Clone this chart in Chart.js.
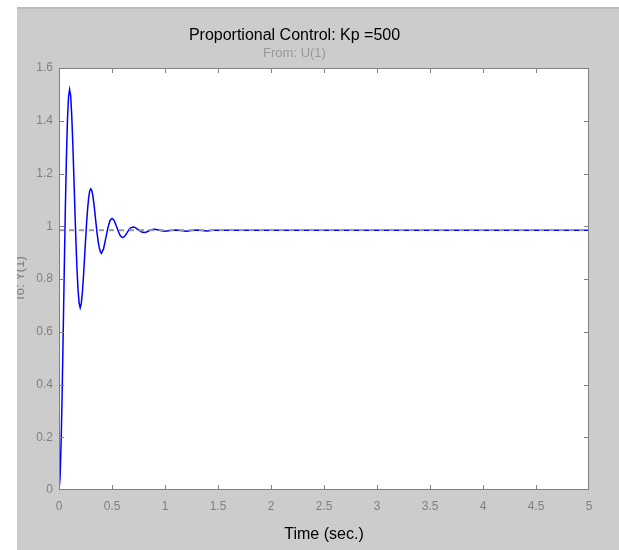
<!DOCTYPE html>
<html lang="en">
  <head>
    <meta charset="UTF-8" />
    <script src="https://cdn.jsdelivr.net/npm/chart.js@4.4.0/dist/chart.umd.min.js"></script>
    <title>Proportional Control: Kp =500</title>
    <style>
      body {
        margin: 0;
        padding: 0;
        background: white;
      }

      .container {
        width: 619px;
        height: 550px;
      }
    </style>
  </head>
  <body>
    <div class="container">
      <canvas id="stepChart"></canvas>
    </div>
    <script>
      // step response
      const timeSec = [
        0, 0.01, 0.02, 0.03, 0.04, 0.05, 0.06, 0.07, 0.08, 0.09,
        0.1, 0.11, 0.12, 0.13, 0.14, 0.15, 0.16, 0.17, 0.18, 0.19,
        0.2, 0.21, 0.22, 0.23, 0.24, 0.25, 0.26, 0.27, 0.28, 0.29,
        0.3, 0.31, 0.32, 0.33, 0.34, 0.35, 0.36, 0.37, 0.38, 0.39,
        0.4, 0.42, 0.44, 0.46, 0.48, 0.5, 0.52, 0.54, 0.56, 0.58,
        0.6, 0.62, 0.64, 0.66, 0.68, 0.7, 0.72, 0.74, 0.76, 0.78,
        0.8, 0.82, 0.84, 0.86, 0.88, 0.9, 0.92, 0.94, 0.96, 0.98,
        1.0, 1.05, 1.1, 1.15, 1.2, 1.25, 1.3, 1.35, 1.4, 1.45,
        1.5, 2, 3, 4, 5,
      ]
      const response = [
        0, 0.048, 0.18, 0.374, 0.605, 0.844, 1.07, 1.262, 1.405, 1.492,
        1.518, 1.494, 1.422, 1.317, 1.192, 1.062, 0.939, 0.834, 0.757, 0.708,
        0.691, 0.706, 0.747, 0.805, 0.873, 0.943, 1.01, 1.067, 1.109, 1.135,
        1.142, 1.135, 1.114, 1.083, 1.046, 1.008, 0.971, 0.941, 0.918, 0.904,
        0.898, 0.914, 0.952, 0.992, 1.021, 1.03, 1.022, 1.002, 0.98, 0.963,
        0.957, 0.962, 0.974, 0.987, 0.995, 0.997, 0.995, 0.989, 0.983, 0.978,
        0.976, 0.977, 0.981, 0.985, 0.988, 0.989, 0.988, 0.986, 0.984, 0.982,
        0.981, 0.984, 0.986, 0.984, 0.981, 0.984, 0.986, 0.984, 0.982, 0.985,
        0.985, 0.985, 0.985, 0.985, 0.985,
      ]
      const steadyState = 0.985
      const xTicks = [0, 0.5, 1, 1.5, 2, 2.5, 3, 3.5, 4, 4.5, 5]
      const yTicks = [0, 0.2, 0.4, 0.6, 0.8, 1, 1.2, 1.4, 1.6]

      const FONT = 'Liberation Sans, Arial, sans-serif'
      const AXIS_GREY = '#808080'

      const frame = {
        id: 'frame',
        beforeDraw(chart) {
          const { ctx, chartArea: a, width, height } = chart
          ctx.save()
          ctx.fillStyle = '#ffffff'
          ctx.fillRect(0, 0, width, height)
          ctx.fillStyle = '#cccccc'
          ctx.fillRect(17, 7, width - 17, height - 7)
          ctx.fillStyle = '#bdbdbd'
          ctx.fillRect(17, 7, width - 17, 2)
          ctx.fillStyle = '#ffffff'
          ctx.fillRect(a.left, a.top, a.right - a.left, a.bottom - a.top)
          ctx.restore()
        },
        afterDraw(chart) {
          const { ctx, chartArea: a, height } = chart
          const xs = chart.scales.x
          const ys = chart.scales.y
          const len = 5
          ctx.save()
          ctx.strokeStyle = AXIS_GREY
          ctx.lineWidth = 1
          ctx.strokeRect(a.left + 0.5, a.top + 0.5, a.right - a.left - 1, a.bottom - a.top - 1)
          ctx.beginPath()
          xTicks.slice(1, -1).forEach((v) => {
            const px = Math.round(xs.getPixelForValue(v)) + 0.5
            ctx.moveTo(px, a.bottom)
            ctx.lineTo(px, a.bottom - len)
            ctx.moveTo(px, a.top)
            ctx.lineTo(px, a.top + len)
          })
          yTicks.slice(1, -1).forEach((v) => {
            const py = Math.round(ys.getPixelForValue(v)) + 0.5
            ctx.moveTo(a.left, py)
            ctx.lineTo(a.left + len, py)
            ctx.moveTo(a.right, py)
            ctx.lineTo(a.right - len, py)
          })
          ctx.stroke()
          // the y title is cut by the edge of the figure
          ctx.fillStyle = '#ffffff'
          ctx.fillRect(0, 0, 17, height)
          ctx.restore()
        },
      }

      const ctx = document.getElementById('stepChart').getContext('2d')
      new Chart(ctx, {
        type: 'line',
        data: {
          datasets: [
            {
              // dashed steady-state line, drawn over the response
              data: [
                { x: 0, y: steadyState },
                { x: 5, y: steadyState },
              ],
              borderColor: '#9a9a9a',
              borderWidth: 2,
              borderDash: [5, 5],
              pointRadius: 0,
              order: 0,
            },
            {
              data: timeSec.map((t, i) => ({ x: t, y: response[i] })),
              borderColor: '#0000ff',
              borderWidth: 1.5,
              pointRadius: 0,
              tension: 0,
              order: 5,
            },
          ],
        },
        options: {
          responsive: true,
          maintainAspectRatio: false,
          animation: false,
          devicePixelRatio: 1,
          layout: {
            padding: { left: 0, right: 30, top: 0, bottom: 0 },
          },
          plugins: {
            legend: { display: false },
            tooltip: { enabled: false },
            title: {
              display: true,
              text: 'Proportional Control: Kp =500',
              color: '#000000',
              font: { family: FONT, size: 16, weight: 'normal' },
              padding: { top: 26, bottom: 0 },
            },
            subtitle: {
              display: true,
              text: 'From: U(1)',
              color: '#999999',
              font: { family: FONT, size: 13 },
              padding: { top: 0, bottom: 7.2 },
            },
          },
          scales: {
            x: {
              type: 'linear',
              min: 0,
              max: 5,
              afterBuildTicks: (s) => {
                s.ticks = xTicks.map((v) => ({ value: v }))
              },
              afterFit: (s) => {
                s.height = 60
              },
              grid: { display: false, drawTicks: false },
              border: { display: false },
              ticks: {
                color: AXIS_GREY,
                font: { family: FONT, size: 12 },
                padding: 9,
                maxRotation: 0,
                autoSkip: false,
                callback: (v) => String(v),
              },
              title: {
                display: true,
                text: 'Time (sec.)',
                color: '#000000',
                font: { family: FONT, size: 16 },
                padding: { top: 0, bottom: 6 },
              },
            },
            y: {
              min: 0,
              max: 1.6,
              afterBuildTicks: (s) => {
                s.ticks = yTicks.map((v) => ({ value: v }))
              },
              afterFit: (s) => {
                s.width = 59
              },
              grid: { display: false, drawTicks: false },
              border: { display: false },
              ticks: {
                color: AXIS_GREY,
                font: { family: FONT, size: 12 },
                padding: 6,
                autoSkip: false,
                callback: (v) => String(v),
              },
              title: {
                display: true,
                text: 'To: Y(1)',
                color: AXIS_GREY,
                font: { family: FONT, size: 13 },
                padding: { top: 12.7, bottom: 0 },
              },
            },
          },
        },
        plugins: [frame],
      })
    </script>
  </body>
</html>
